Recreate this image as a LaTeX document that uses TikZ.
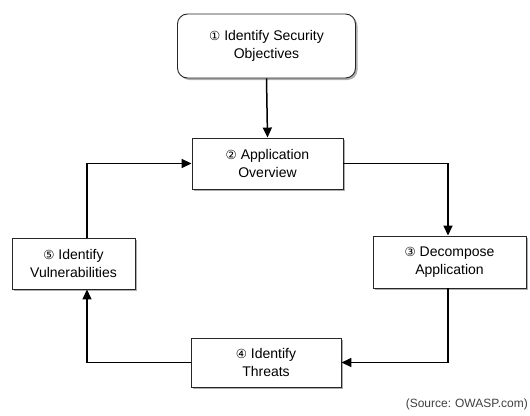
\documentclass[tikz,border=0pt]{standalone}
\usepackage{fontspec}
\setmainfont{Liberation Sans}
\newfontfamily\circfont{DejaVu Sans}
\usetikzlibrary{arrows.meta,shadows}
\newcommand{\cnum}[1]{{\circfont\fontsize{12.5pt}{14pt}\selectfont #1}}
\tikzset{
  stepbox/.style={draw=black!85, line width=0.9pt, fill=white, align=center,
    font=\fontsize{14pt}{18.5pt}\selectfont, inner sep=0pt,
    drop shadow={shadow xshift=2pt, shadow yshift=-2pt, fill=black!45, opacity=0.7}},
  flow/.style={line width=1.5pt, -{Triangle[length=10pt,width=9pt]}}
}
\begin{document}
\begin{tikzpicture}[x=1pt,y=-1pt]
\useasboundingbox (0,0) rectangle (530,415);
% process steps
\node[stepbox, rounded corners=10pt, minimum width=178pt, minimum height=64pt] (obj) at (266.5,46)
  {\cnum{①} Identify Security\\Objectives};
\node[stepbox, minimum width=151pt, minimum height=51pt] (ovr) at (267.5,163.5)
  {\cnum{②} Application\\Overview};
\node[stepbox, minimum width=153pt, minimum height=52pt] (dec) at (449.5,262)
  {\cnum{③} Decompose\\Application};
\node[stepbox, minimum width=150pt, minimum height=49pt] (thr) at (266,362.5)
  {\cnum{④} Identify\\Threats};
\node[stepbox, minimum width=123pt, minimum height=51pt] (vul) at (73.5,263.5)
  {\cnum{⑤} Identify\\Vulnerabilities};
% corner points of the loop
\coordinate (c1) at (448,163.5);
\coordinate (c2) at (448,362.5);
\coordinate (c3) at (87,362.5);
\coordinate (c4) at (87,163.5);
% connectors
\draw[flow] (obj.south) -- (ovr.north);
\draw[flow] (ovr.east) -- (c1) -- (dec.north -| c1);
\draw[flow] (dec.south -| c2) -- (c2) -- (thr.east);
\draw[flow] (thr.west) -- (c3) -- (vul.south -| c3);
\draw[flow] (vul.north -| c4) -- (c4) -- (ovr.west);
% source note
\node[anchor=south east, inner sep=0pt, text=black!75, font=\fontsize{12pt}{14pt}\selectfont] (src) at (528,410)
  {(Source:\,\,OWASP.com)};
\end{tikzpicture}
\end{document}
